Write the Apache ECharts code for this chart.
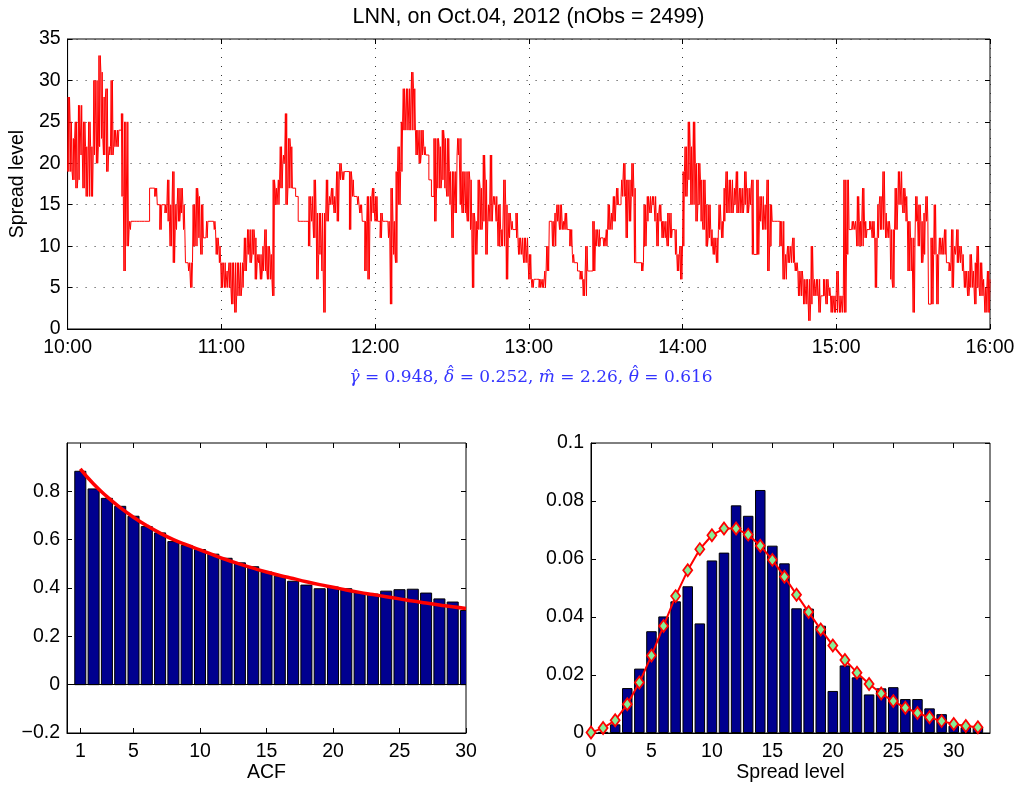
<!DOCTYPE html>
<html><head><meta charset="utf-8">
<script src="https://cdn.jsdelivr.net/npm/echarts@6/dist/echarts.min.js"></script>
<style>html,body{margin:0;padding:0;background:#fff}#c{width:1018px;height:785px}</style>
</head><body><div id="c"></div>
<script>
// ---- top panel: spread level, per-minute high / low since 10:00 ----
const timeTickLabels = ['10:00','11:00','12:00','13:00','14:00','15:00','16:00'];
const spreadHigh = [
 28,25,23,25,27,27,25,22,25,22, 30,30,33,31,28,29,22,30,24,24,
 24,26,25,25,13,13,13,13,13,13, 13,13,17,17,17,15,15,15,15,18,
 15,19,15,17,17,15,8,8,8,15, 17,16,15,11,13,13,13,13,11,10,
 8,8,7,8,8,8,8,8,8,11, 12,12,12,11,9,9,10,12,10,9,
 18,17,18,22,21,26,23,22,17,16, 13,13,13,13,16,16,18,14,14,14,
 14,18,16,17,16,19,20,19,19,19, 19,18,16,16,15,13,13,16,16,17,
 16,13,14,13,13,13,17,13,19,22, 25,29,29,29,31,29,24,24,24,22,
 21,18,16,23,23,22,24,23,23,19, 19,19,23,23,19,19,19,18,14,13,
 18,17,21,18,15,21,16,16,15,12, 18,15,14,13,12,14,11,11,11,11,
 9,6,6,6,6,6,7,10,13,13, 14,15,15,13,14,12,12,9,8,7,
 7,6,10,7,7,13,12,12,11,11, 12,15,14,16,17,15,18,20,18,18,
 20,17,8,8,8,15,16,16,16,16, 14,15,13,13,14,14,12,12,9,10,
 19,22,25,22,25,20,20,18,18,15, 15,12,11,11,15,13,17,19,18,18,
 17,19,17,17,19,17,17,18,9,18, 16,16,15,18,15,13,13,13,13,13,
 9,10,10,11,8,7,7,6,6,6, 10,6,6,6,4,6,6,5,4,4,
 7,4,4,18,18,12,13,13,16,13, 17,13,12,13,13,11,15,16,19,14,
 13,12,12,17,19,19,17,16,13,11, 11,16,15,13,14,16,3,11,15,9,
 11,11,12,8,8,12,10,12,10,9, 7,7,9,7,8,10,8,6,5,7
];
const spreadLow = [
 19,19,18,17,18,21,17,16,16,16, 21,20,22,23,21,19,21,21,22,22,
 24,16,7,10,12,13,13,13,13,13, 13,13,17,17,16,15,12,15,14,13,
 10,8,12,13,14,12,8,7,5,10, 10,11,9,11,11,13,13,12,9,8,
 5,5,5,5,3,2,4,4,5,7, 9,8,9,6,8,6,7,7,6,6,
 4,15,15,17,20,15,17,17,17,16, 13,13,13,13,10,13,11,6,9,7,
 2,13,15,15,14,13,18,18,19,19, 12,16,16,15,14,13,7,6,13,14,
 13,13,11,13,13,11,3,9,8,15, 19,24,24,24,24,24,21,20,21,21,
 21,18,16,13,17,17,18,17,16,15, 11,14,21,15,14,14,13,12,5,9,
 12,12,13,9,13,13,15,13,10,10, 10,6,11,12,12,11,9,9,8,8,
 6,5,6,6,5,5,5,7,13,10, 10,13,12,12,12,12,10,8,8,7,
 6,4,4,7,7,7,10,10,11,10, 10,12,12,13,15,15,16,16,11,13,
 16,8,8,8,7,10,13,14,15,13, 10,13,11,11,10,11,12,9,7,6,
 10,16,18,15,15,13,15,13,12,10, 11,10,9,8,12,11,13,14,14,14,
 15,14,14,14,15,14,15,9,9,9, 13,12,12,7,10,13,13,13,10,6,
 6,8,8,8,7,4,4,3,3,1, 3,4,4,2,4,4,3,4,2,2,
 2,2,2,2,9,12,12,12,10,10, 10,11,12,12,11,5,11,12,12,11,
 11,6,5,12,15,15,14,13,7,7, 2,13,10,8,9,13,3,3,9,3,
 9,9,9,8,7,5,9,8,8,7, 5,4,5,5,3,5,4,4,2,2
];
const spreadLast = 6;

// ---- bottom-left: ACF ----
const acfLags = [1,2,3,4,5,6,7,8,9,10,11,12,13,14,15,16,17,18,19,20,21,22,23,24,25,26,27,28,29,30];
const acfValues = [0.883,0.810,0.771,0.738,0.697,0.654,0.628,0.592,0.576,0.559,0.540,0.523,0.504,0.488,0.466,0.449,0.428,0.412,0.397,0.404,0.397,0.380,0.375,0.387,0.393,0.395,0.379,0.355,0.342,0.307];
const acfFit = [0.893,0.830,0.778,0.733,0.693,0.658,0.627,0.600,0.578,0.558,0.537,0.517,0.499,0.482,0.466,0.452,0.439,0.426,0.414,0.403,0.392,0.382,0.373,0.364,0.355,0.346,0.338,0.330,0.322,0.315];
const acfTickValues = [1,5,10,15,20,25,30];
const acfYTicks = [-0.2,0,0.2,0.4,0.6,0.8];

// ---- bottom-right: spread level distribution ----
const histLevels = [1,2,3,4,5,6,7,8,9,10,11,12,13,14,15,16,17,18,19,20,21,22,23,24,25,26,27,28,29,30,31,32];
const histValues = [0.0004,0.0030,0.0155,0.0222,0.0351,0.0402,0.0454,0.0506,0.0378,0.0595,0.0622,0.0785,0.0749,0.0838,0.0646,0.0585,0.0430,0.0429,0.0370,0.0145,0.0233,0.0192,0.0133,0.0154,0.0158,0.0117,0.0117,0.0085,0.0065,0.0025,0.0020,0.0022];
const fitLevels = [0,1,2,3,4,5,6,7,8,9,10,11,12,13,14,15,16,17,18,19,20,21,22,23,24,25,26,27,28,29,30,31,32];
const fitValues = [0.0002,0.0017,0.0044,0.0099,0.0174,0.0267,0.0369,0.0472,0.0561,0.0634,0.0682,0.0705,0.0705,0.0684,0.0646,0.0597,0.0539,0.0477,0.0417,0.0357,0.0302,0.0252,0.0208,0.0169,0.0136,0.0110,0.0087,0.0069,0.0054,0.0041,0.0031,0.0024,0.0020];
const histXTicks = [0,5,10,15,20,25,30];
const histYTicks = [0,0.02,0.04,0.06,0.08,0.1];

// ---- texts ----
const titleText = 'LNN, on Oct.04, 2012 (nObs = 2499)';
const paramNames = ['\u03B3', '\u03B4', 'm', '\u03B8'];
const paramTall = [false, true, false, true];
const paramValues = ['0.948', '0.252', '2.26', '0.616'];

// ---- build series data ----
const spreadData = [];
for (let m = 0; m < spreadHigh.length; m++) {
  const h = spreadHigh[m], l = spreadLow[m];
  if (h === l) { spreadData.push([m, h]); continue; }
  const a = m % 2 === 0 ? l : h, b = m % 2 === 0 ? h : l;
  spreadData.push([m, a], [m + 0.25, b], [m + 0.5, a], [m + 0.75, b]);
}
spreadData.push([spreadHigh.length, spreadLast]);
const acfBarData = acfLags.map((k, i) => [k, acfValues[i]]);
const acfFitData = acfLags.map((k, i) => [k, acfFit[i]]);
const histData = histLevels.map((k, i) => [k, histValues[i]]);
const fitData = fitLevels.map((k, i) => [k, fitValues[i]]);

const FONT = 'Liberation Sans';
const FS = 19.5;
const labelStyle = { color: '#000', fontFamily: FONT, fontSize: FS };
const tick = { show: true, inside: true, length: 5, lineStyle: { color: '#000' } };
const axLine = { show: true, onZero: false, lineStyle: { color: '#000', width: 1 } };
const dotted = { show: true, lineStyle: { color: '#333', width: 1, type: [1, 8] } };
const minus = v => String(v).replace('-', '\u2212');

function mirrorX(grid, min, max, extra) {
  return Object.assign({ type: 'value', gridIndex: grid, position: 'top', min, max, axisLine: { show: false, onZero: false },
    axisTick: tick, axisLabel: { show: false }, splitLine: { show: false } }, extra || {});
}
function mirrorY(grid, min, max, extra) {
  return Object.assign({ type: 'value', gridIndex: grid, position: 'right', min, max, axisLine: { show: false, onZero: false },
    axisTick: tick, axisLabel: { show: false }, splitLine: { show: false } }, extra || {});
}

// ---- formula text (hats drawn as separate accents) ----
const MFS = 17, MFONT = 'DejaVu Serif', BLUE = '#3434ff';
const mctx = document.createElement('canvas').getContext('2d');
function tw(t, italic) { mctx.font = (italic ? 'italic ' : '') + MFS + 'px "' + MFONT + '"'; return mctx.measureText(t).width; }
const pieces = [];
paramNames.forEach((n, i) => {
  pieces.push({ t: n, it: true, hat: true, tall: paramTall[i] });
  pieces.push({ t: ' = ', it: false });
  pieces.push({ t: paramValues[i] + (i < paramNames.length - 1 ? ', ' : ''), it: false });
});
const widths = pieces.map(p => tw(p.t, p.it));
const totalW = widths.reduce((a, b) => a + b, 0);
const formulaGraphics = [];
let fx = 531 - totalW / 2;
const fy = 378;
const hatW = tw('\u02C6', false);
pieces.forEach((p, i) => {
  formulaGraphics.push({ type: 'text', x: fx, y: fy, silent: true, style: { text: p.t, fill: BLUE,
    font: (p.it ? 'italic ' : '') + MFS + 'px "' + MFONT + '"', textAlign: 'left', verticalAlign: 'middle', textVerticalAlign: 'middle' } });
  if (p.hat) {
    formulaGraphics.push({ type: 'text', x: fx + widths[i] / 2 - hatW / 2 + 1.5, y: fy - (p.tall ? 4.5 : 0), silent: true,
      style: { text: '\u02C6', fill: BLUE, font: MFS + 'px "' + MFONT + '"', textAlign: 'left', verticalAlign: 'middle', textVerticalAlign: 'middle' } });
  }
  fx += widths[i];
});

const chart = echarts.init(document.getElementById('c'), null, { renderer: 'canvas' });
chart.setOption({
  animation: false,
  backgroundColor: '#fff',
  grid: [
    { left: 67, right: 28, top: 39, bottom: 456, show: true, borderColor: '#000', borderWidth: 1, containLabel: false },
    { left: 67, right: 552, top: 443, bottom: 52, show: true, borderColor: '#000', borderWidth: 1, containLabel: false },
    { left: 591, right: 28, top: 443, bottom: 52, show: true, borderColor: '#000', borderWidth: 1, containLabel: false }
  ],
  graphic: [
    { type: 'text', x: 528.5, y: 17, silent: true, style: { text: titleText, fill: '#000',
      font: '21.5px "' + FONT + '"', textAlign: 'center', verticalAlign: 'middle', textVerticalAlign: 'middle' } }
  ].concat(formulaGraphics),
  xAxis: [
    { type: 'value', gridIndex: 0, min: 0, max: 360, interval: 60, axisLine: axLine, axisTick: tick,
      axisLabel: Object.assign({ margin: 9, formatter: v => timeTickLabels[Math.round(v / 60)] || '' }, labelStyle),
      splitLine: dotted },
    mirrorX(0, 0, 360, { interval: 60 }),
    { type: 'value', gridIndex: 1, min: 0, max: 30, axisLine: axLine,
      axisTick: Object.assign({ customValues: acfTickValues }, tick),
      axisLabel: Object.assign({ margin: 9, customValues: acfTickValues }, labelStyle),
      splitLine: { show: false },
      name: 'ACF', nameLocation: 'middle', nameGap: 29, nameTextStyle: labelStyle },
    mirrorX(1, 0, 30, { axisTick: Object.assign({ customValues: acfTickValues }, tick) }),
    { type: 'value', gridIndex: 2, min: 0, max: 33, axisLine: axLine,
      axisTick: Object.assign({ customValues: histXTicks }, tick),
      axisLabel: Object.assign({ margin: 9, customValues: histXTicks }, labelStyle),
      splitLine: { show: false },
      name: 'Spread level', nameLocation: 'middle', nameGap: 29, nameTextStyle: labelStyle },
    mirrorX(2, 0, 33, { axisTick: Object.assign({ customValues: histXTicks }, tick) })
  ],
  yAxis: [
    { type: 'value', gridIndex: 0, min: 0, max: 35, interval: 5, axisLine: axLine, axisTick: tick,
      axisLabel: Object.assign({ margin: 7 }, labelStyle), splitLine: dotted,
      name: 'Spread level', nameLocation: 'middle', nameGap: 36, nameTextStyle: labelStyle },
    mirrorY(0, 0, 35, { interval: 5 }),
    { type: 'value', gridIndex: 1, min: -0.2, max: 1, axisLine: axLine,
      axisTick: Object.assign({ customValues: acfYTicks }, tick),
      axisLabel: Object.assign({ margin: 7, customValues: acfYTicks, formatter: minus }, labelStyle),
      splitLine: { show: false } },
    mirrorY(1, -0.2, 1, { axisTick: Object.assign({ customValues: acfYTicks }, tick) }),
    { type: 'value', gridIndex: 2, min: 0, max: 0.1, axisLine: axLine,
      axisTick: Object.assign({ customValues: histYTicks }, tick),
      axisLabel: Object.assign({ margin: 7, customValues: histYTicks }, labelStyle),
      splitLine: { show: false } },
    mirrorY(2, 0, 0.1, { axisTick: Object.assign({ customValues: histYTicks }, tick) })
  ],
  series: [
    { type: 'line', xAxisIndex: 0, yAxisIndex: 0, data: spreadData, step: 'end', symbol: 'none',
      sampling: null, lineStyle: { color: '#ff0000', width: 1 }, silent: true, z: 3 },
    { type: 'custom', xAxisIndex: 2, yAxisIndex: 2, data: acfBarData, clip: true, silent: true,
      encode: { x: 0, y: 1 },
      renderItem: (params, api) => {
        const top = api.coord([api.value(0), api.value(1)]);
        const base = api.coord([api.value(0), 0]);
        const w = api.size([1, 0])[0] * 0.83;
        return { type: 'rect', shape: { x: top[0] - w / 2, y: top[1], width: w, height: base[1] - top[1] },
          style: { fill: '#00008f', stroke: '#000', lineWidth: 1 } };
      } },
    { type: 'line', xAxisIndex: 2, yAxisIndex: 2, data: acfFitData, smooth: true, symbol: 'none',
      lineStyle: { color: '#ff0000', width: 3.5 }, silent: true, z: 4,
      markLine: { silent: true, symbol: 'none', label: { show: false }, animation: false,
        lineStyle: { color: '#000', width: 1, type: 'solid' }, data: [{ yAxis: 0 }] } },
    { type: 'bar', xAxisIndex: 4, yAxisIndex: 4, data: histData, barWidth: 10.5, clip: true,
      itemStyle: { color: '#00008f', borderColor: '#000', borderWidth: 1 }, silent: true },
    { type: 'line', xAxisIndex: 4, yAxisIndex: 4, data: fitData, symbol: 'diamond', symbolSize: [9, 12],
      itemStyle: { color: '#86ee96', borderColor: '#ff0000', borderWidth: 1.8 },
      lineStyle: { color: '#ff0000', width: 2 }, silent: true, z: 4 }
  ]
});
</script></body></html>
